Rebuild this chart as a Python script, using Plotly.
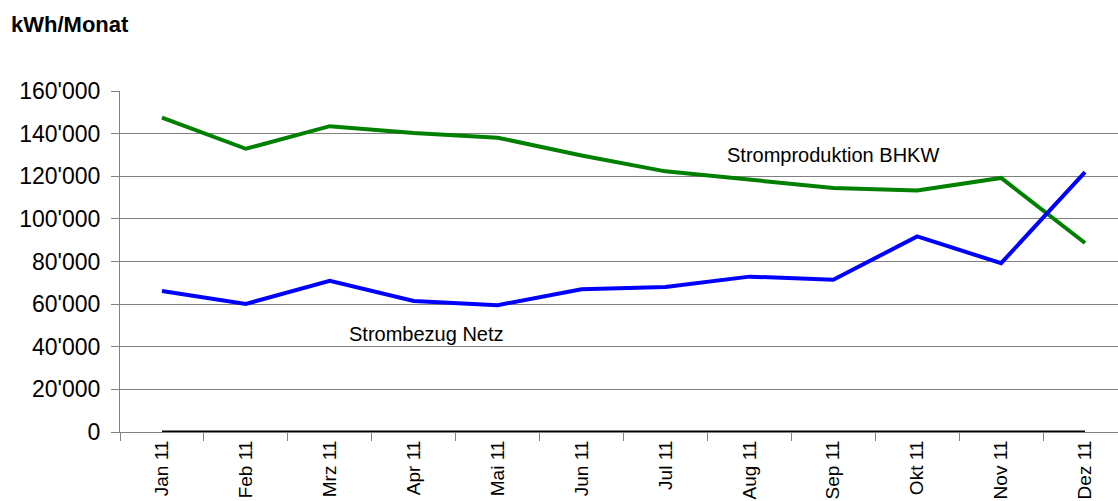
import plotly.graph_objects as go

months = ["Jan 11", "Feb 11", "Mrz 11", "Apr 11", "Mai 11", "Jun 11",
          "Jul 11", "Aug 11", "Sep 11", "Okt 11", "Nov 11", "Dez 11"]
stromproduktion_bhkw = [147500, 132900, 143500, 140300, 138100, 129700,
                        122300, 118300, 114500, 113300, 119200, 88700]
strombezug_netz = [66200, 60100, 70900, 61500, 59500, 67000,
                   68000, 72900, 71400, 91800, 79200, 121900]
nullreihe = [0] * 12
y_ticks = [0, 20000, 40000, 60000, 80000, 100000, 120000, 140000, 160000]

W, H = 1118, 501
ML, MT, MB = 120, 91, 69
PW, PH = W - ML, H - MT - MB

fig = go.Figure()
fig.add_trace(go.Scatter(x=months, y=nullreihe, mode="lines",
                         line=dict(color="#000000", width=3), showlegend=False))
fig.add_trace(go.Scatter(x=months, y=stromproduktion_bhkw, mode="lines",
                         line=dict(color="#008000", width=4), showlegend=False))
fig.add_trace(go.Scatter(x=months, y=strombezug_netz, mode="lines",
                         line=dict(color="#0000FF", width=4), showlegend=False))

fig.add_annotation(x=8, y=130000, xref="x", yref="y", text="Stromproduktion BHKW",
                   showarrow=False, font=dict(size=20, color="#000000"))
fig.add_annotation(x=3.15, y=46000, xref="x", yref="y", text="Strombezug Netz",
                   showarrow=False, font=dict(size=20, color="#000000"))
fig.add_annotation(x=(9 - ML) / PW, y=1 + (MT - 25) / PH, xref="paper", yref="paper",
                   text="<b>kWh/Monat</b>", showarrow=False,
                   xanchor="left", yanchor="middle",
                   font=dict(size=22, color="#000000"))

fig.update_layout(
    width=W, height=H,
    margin=dict(l=ML, r=0, t=MT, b=MB, autoexpand=False),
    paper_bgcolor="white", plot_bgcolor="white",
    font=dict(family="Liberation Sans, Arial, sans-serif", color="#000000"),
    separators=".'",
    showlegend=False,
)

fig.update_xaxes(
    type="category", range=[-0.5, 11.5 - 9 / 84],
    showgrid=False, showline=True, linecolor="#808080", linewidth=1,
    ticks="outside", ticklen=8, tickcolor="#808080",
    tickson="boundaries", tickangle=-90,
    tickfont=dict(size=19, color="#000000"),
)
fig.update_yaxes(
    range=[0, 160000], tickvals=y_ticks, tickformat=",",
    showgrid=True, gridcolor="#808080", gridwidth=1,
    showline=True, linecolor="#808080", linewidth=1,
    ticks="outside", ticklen=8, tickcolor="#808080", ticklabelstandoff=6,
    tickfont=dict(size=23, color="#000000"), zeroline=False,
)

fig.write_html(
    "out.html",
    config={"displayModeBar": False},
    post_script="document.body.style.margin='0';document.body.style.overflow='hidden';",
)
